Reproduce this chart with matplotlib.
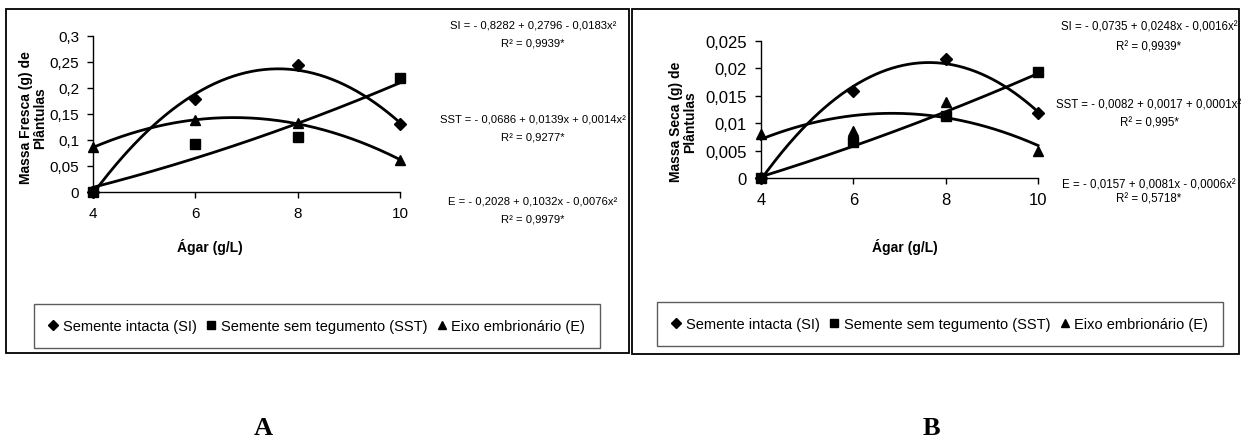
import numpy as np
import matplotlib
matplotlib.use("Agg")
import matplotlib.pyplot as plt
from matplotlib.lines import Line2D
from matplotlib.patches import Rectangle

plt.rcParams['font.family'] = ['Liberation Sans', 'DejaVu Sans']

W, H = 1245, 439

# ---------------- data ----------------
agar = [4, 6, 8, 10]

# Panel A - Massa fresca
a_si = [0.0, 0.179, 0.244, 0.130]
a_sst = [0.0, 0.092, 0.105, 0.219]
a_e = [0.086, 0.138, 0.132, 0.062]
a_yticks = [0, 0.05, 0.1, 0.15, 0.2, 0.25, 0.3]
a_ylabels = ['0', '0,05', '0,1', '0,15', '0,2', '0,25', '0,3']
a_eqs = [("SI = - 0,8282 + 0,2796 - 0,0183x²", "R² = 0,9939*"),
         ("SST = - 0,0686 + 0,0139x + 0,0014x²", "R² = 0,9277*"),
         ("E = - 0,2028 + 0,1032x - 0,0076x²", "R² = 0,9979*")]

# Panel B - Massa seca
b_si = [0.0, 0.0159, 0.0217, 0.0118]
b_sst = [0.0, 0.0065, 0.0114, 0.0193]
b_e = [0.0080, 0.0086, 0.0138, 0.0050]
b_yticks = [0, 0.005, 0.01, 0.015, 0.02, 0.025]
b_ylabels = ['0', '0,005', '0,01', '0,015', '0,02', '0,025']
b_eqs = [("SI = - 0,0735 + 0,0248x - 0,0016x²", "R² = 0,9939*"),
         ("SST = - 0,0082 + 0,0017 + 0,0001x²", "R² = 0,995*"),
         ("E = - 0,0157 + 0,0081x - 0,0006x²", "R² = 0,5718*")]

xticks = [4, 6, 8, 10]
series_names = ["Semente intacta (SI)", "Semente sem tegumento (SST)", "Eixo embrionário (E)"]
markers = ['D', 's', '^']
msizes = [6, 6.5, 7.5]


def fx(x):
    return x / W


def fy(y):
    return 1 - y / H


fig = plt.figure(figsize=(W / 100, H / 100), dpi=100)

# frames
fig.patches.append(Rectangle((fx(6), fy(354)), fx(629) - fx(6), fy(10) - fy(354),
                             transform=fig.transFigure, fill=False, ec='black', lw=1.3))
fig.patches.append(Rectangle((fx(632), fy(355)), fx(1239) - fx(632), fy(10) - fy(355),
                             transform=fig.transFigure, fill=False, ec='black', lw=1.3))


def panel(rect, series, yticks, ylabels, ylim, ylabel, ylab_pos, xlab_pos,
          eqs, eq_x, eq_ys, eqfs, leg_center, letter, letter_pos, tickfs):
    ax = fig.add_axes(rect)
    xs = np.linspace(agar[0], agar[-1], 200)
    for vals, m, ms in zip(series, markers, msizes):
        coef = np.polyfit(agar, vals, 2)
        ax.plot(xs, np.polyval(coef, xs), color='black', lw=2.0, clip_on=False, zorder=2)
        ax.plot(agar, vals, linestyle='none', marker=m, ms=ms, color='black',
                clip_on=False, zorder=3)
    ax.set_xlim(4, 10)
    ax.set_ylim(*ylim)
    ax.set_xticks(xticks)
    ax.set_xticklabels([str(t) for t in xticks], fontsize=tickfs)
    ax.set_yticks(yticks)
    ax.set_yticklabels(ylabels, fontsize=tickfs)
    for s in ['top', 'right']:
        ax.spines[s].set_visible(False)
    for s in ['left', 'bottom']:
        ax.spines[s].set_linewidth(1.0)
    ax.tick_params(direction='out', length=4, width=1, pad=6)
    ax.patch.set_alpha(0)

    fig.text(fx(ylab_pos[0]), fy(ylab_pos[1]), ylabel, rotation=90, ha='center',
             va='center', fontsize=10, fontweight='bold', linespacing=1.05)
    fig.text(fx(xlab_pos[0]), fy(xlab_pos[1]), "Ágar (g/L)", ha='center', va='center',
             fontsize=10, fontweight='bold')
    for (l1, l2), (y1, y2) in zip(eqs, eq_ys):
        fig.text(fx(eq_x), fy(y1), l1, ha='center', va='center', fontsize=eqfs)
        fig.text(fx(eq_x), fy(y2), l2, ha='center', va='center', fontsize=eqfs)

    handles = [Line2D([], [], linestyle='none', marker=m, ms=ms * 0.85, color='black')
               for m, ms in zip(markers, msizes)]
    leg = fig.legend(handles, series_names, loc='center', ncol=3,
                     bbox_to_anchor=(fx(leg_center[0]), fy(leg_center[1])),
                     fontsize=10.5, frameon=True, fancybox=False, handlelength=0.6,
                     handletextpad=0.35, columnspacing=0.7, borderpad=1.0,
                     borderaxespad=0)
    leg.get_frame().set_edgecolor('#333333')
    leg.get_frame().set_linewidth(1.0)

    fig.text(fx(letter_pos[0]), fy(letter_pos[1]), letter, ha='center', va='center',
             fontsize=19, fontweight='bold', family='Liberation Serif')
    return ax


panel([fx(93), fy(193), fx(400) - fx(93), fy(37) - fy(193)],
      [a_si, a_sst, a_e], a_yticks, a_ylabels, (0, 0.3),
      "Massa Fresca (g) de\nPlântulas", (33, 118), (210, 247),
      a_eqs, 533, [(25, 43), (119, 137), (202, 219)], 8.1, (317, 327), "A", (263, 429), 11)

panel([fx(761), fy(179), fx(1038) - fx(761), fy(42) - fy(179)],
      [b_si, b_sst, b_e], b_yticks, b_ylabels, (0, 0.025),
      "Massa Seca (g) de\nPlântulas", (683, 122), (905, 247),
      b_eqs, 1149, [(28, 47), (106, 124), (185, 200)], 8.3, (940, 325), "B", (931, 429), 12)

fig.savefig("out.png", dpi=100)
